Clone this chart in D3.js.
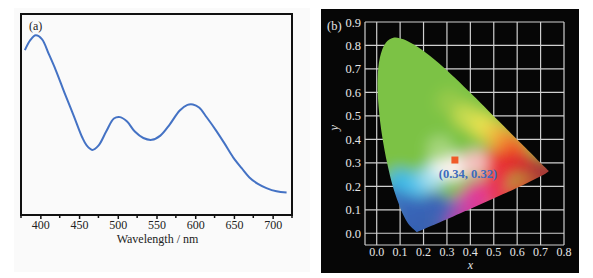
<!DOCTYPE html>
<html lang="en">
<head>
  <meta charset="UTF-8">
  <title>Emission spectrum and CIE diagram</title>
  <style>
    body { margin: 0; background: #fff; }
    text { font-family: 'Liberation Serif', 'DejaVu Serif', serif; }
  </style>
</head>
<body>
  <script src="https://d3js.org/d3.v7.min.js"></script>
  <div id="chart"></div>

  <script>
    // (a) emission spectrum
    const wavelength = [380, 387, 394, 402, 411, 420, 432, 443, 454, 460, 467, 475, 485, 495, 503, 512, 522, 533, 544, 555, 567, 580, 590, 597, 605, 615, 627, 638, 649, 660, 670, 681, 692, 705, 718]
    const intensity = [0.82, 0.87, 0.894, 0.875, 0.80, 0.72, 0.60, 0.495, 0.387, 0.345, 0.324, 0.345, 0.415, 0.48, 0.487, 0.465, 0.415, 0.383, 0.374, 0.395, 0.45, 0.52, 0.548, 0.55, 0.535, 0.485, 0.42, 0.355, 0.287, 0.233, 0.187, 0.155, 0.134, 0.118, 0.112]
    const wlTicks = [400, 450, 500, 550, 600, 650, 700]
    const wlMinor = [375, 425, 475, 525, 575, 625, 675, 725]

    // (b) CIE 1931 spectral locus (x, y)
    const locusX = [0.1741, 0.1738, 0.1733, 0.1726, 0.1714, 0.1703, 0.1689, 0.1669, 0.1644, 0.1611, 0.1566, 0.1510, 0.1440, 0.1355, 0.1241, 0.1096, 0.0913, 0.0687, 0.0454, 0.0235, 0.0082, 0.0039, 0.0139, 0.0389, 0.0743, 0.1142, 0.1547, 0.1929, 0.2296, 0.2658, 0.3016, 0.3373, 0.3731, 0.4087, 0.4441, 0.4788, 0.5125, 0.5448, 0.5752, 0.6029, 0.6270, 0.6482, 0.6658, 0.6801, 0.6915, 0.7006, 0.7079, 0.7140, 0.7190, 0.7230, 0.7260, 0.7300, 0.7347]
    const locusY = [0.0050, 0.0049, 0.0048, 0.0048, 0.0051, 0.0058, 0.0069, 0.0086, 0.0109, 0.0138, 0.0177, 0.0227, 0.0297, 0.0399, 0.0578, 0.0868, 0.1327, 0.2007, 0.2950, 0.4127, 0.5384, 0.6548, 0.7502, 0.8120, 0.8338, 0.8262, 0.8059, 0.7816, 0.7543, 0.7243, 0.6923, 0.6589, 0.6245, 0.5896, 0.5547, 0.5202, 0.4866, 0.4544, 0.4242, 0.3965, 0.3725, 0.3514, 0.3340, 0.3197, 0.3083, 0.2993, 0.2920, 0.2859, 0.2809, 0.2770, 0.2740, 0.2700, 0.2653]
    const cieTicksX = [0, 0.1, 0.2, 0.3, 0.4, 0.5, 0.6, 0.7, 0.8]
    const cieTicksY = [0, 0.1, 0.2, 0.3, 0.4, 0.5, 0.6, 0.7, 0.8, 0.9]

    // colour anchors used to paint the diagram (some sit just outside the
    // locus so that the blur does not pull green into the lower edge)
    const hueX = [0.31, 0.38, 0.45, 0.51, 0.55, 0.59, 0.49, 0.57, 0.52, 0.64, 0.71, 0.50, 0.43, 0.40, 0.36, 0.30, 0.25, 0.21, 0.15, 0.18, 0.13, 0.10, 0.18, 0.24, 0.29, 0.33, 0.27, 0.42,
                  0.06, 0.12, 0.20, 0.28, 0.36, 0.45, 0.55, 0.63, 0.72, 0.78]
    const hueY = [0.56, 0.50, 0.46, 0.42, 0.39, 0.36, 0.30, 0.30, 0.24, 0.29, 0.27, 0.19, 0.17, 0.14, 0.11, 0.09, 0.12, 0.09, 0.12, 0.03, 0.06, 0.22, 0.21, 0.24, 0.30, 0.28, 0.36, 0.30,
                  0.14, -0.02, -0.04, 0.00, 0.04, 0.08, 0.13, 0.17, 0.21, 0.27]
    const hueColor = ['#96ca4a', '#c4da50', '#e4e250', '#ecc844', '#f09a36', '#f06a2c', '#ea3a32', '#e62a2a', '#e8303c', '#d22e30', '#a63838', '#e83250', '#e8368a', '#e0389a', '#c848a8', '#5e5cb8', '#3c64b8', '#3a62b6', '#3866ba', '#3460b0', '#3864b6', '#3ab8e6', '#56c4ec', '#a8e0ee', '#ffffff', '#fff2f0', '#a6d67c', '#f6c0c0',
                      '#3a72c0', '#3460b0', '#3460b0', '#4a5cb4', '#c040a8', '#e03490', '#e8304c', '#e02c2c', '#b03434', '#a03838']

    const cieValue = [0.334, 0.312]
    const cieLabel = '(0.34, 0.32)'

    const svg = d3.select('#chart')
      .append('svg')
      .attr('width', 593)
      .attr('height', 278)

    // panel (a) =============================================================
    svg.append('rect')
      .attr('x', 14).attr('y', 8)
      .attr('width', 296).attr('height', 264)
      .attr('fill', '#fafafa')

    const x = d3.scaleLinear().domain([375, 725]).range([21, 292])
    const y = d3.scaleLinear().domain([0, 1]).range([215, 14])

    svg.append('path')
      .datum(wavelength.map((w, i) => [w, intensity[i]]))
      .attr('fill', 'none')
      .attr('stroke', '#4472c4')
      .attr('stroke-width', 2)
      .attr('d', d3.line().x(d => x(d[0])).y(d => y(d[1])).curve(d3.curveCatmullRom))

    svg.append('rect')
      .attr('x', 21).attr('y', 14)
      .attr('width', 271).attr('height', 201)
      .attr('fill', 'none')
      .attr('stroke', '#111')
      .attr('stroke-width', 2)

    const axisA = svg.append('g')
      .attr('transform', 'translate(0, 215)')
      .call(d3.axisBottom(x).tickValues(wlTicks).tickSize(4).tickPadding(1.5))
    axisA.select('.domain').remove()
    axisA.selectAll('line').attr('stroke', '#111').attr('stroke-width', 1.5)
    axisA.selectAll('text').attr('font-size', 12).attr('fill', '#222')
      .style('font-family', "'Liberation Serif', serif")

    svg.append('g')
      .selectAll('line')
      .data(wlMinor)
      .join('line')
      .attr('x1', d => x(d)).attr('x2', d => x(d))
      .attr('y1', 215).attr('y2', 218)
      .attr('stroke', '#111').attr('stroke-width', 1.5)

    svg.append('text')
      .attr('x', x(550) + 1).attr('y', 243)
      .attr('text-anchor', 'middle')
      .attr('font-size', 12)
      .attr('fill', '#222')
      .text('Wavelength / nm')

    svg.append('text')
      .attr('x', 29).attr('y', 30)
      .attr('font-size', 12)
      .attr('fill', '#222')
      .text('(a)')

    // panel (b) =============================================================
    svg.append('rect')
      .attr('x', 321).attr('y', 9)
      .attr('width', 258).attr('height', 264)
      .attr('fill', '#060606')

    const cx = d3.scaleLinear().domain([-0.05, 0.8]).range([365, 564])
    const cy = d3.scaleLinear().domain([-0.05, 0.9]).range([245, 22])

    const grid = svg.append('g').attr('stroke', '#cfcfcf').attr('stroke-width', 1.2)
    grid.selectAll('.v')
      .data([-0.05].concat(cieTicksX))
      .join('line')
      .attr('x1', d => cx(d)).attr('x2', d => cx(d))
      .attr('y1', cy(0.9)).attr('y2', cy(-0.05))
    grid.selectAll('.h')
      .data([-0.05].concat(cieTicksY))
      .join('line')
      .attr('y1', d => cy(d)).attr('y2', d => cy(d))
      .attr('x1', cx(-0.05)).attr('x2', cx(0.8))

    // horseshoe, painted with blurred colour anchors
    const defs = svg.append('defs')
    defs.append('clipPath')
      .attr('id', 'locus')
      .append('path')
      .attr('d', d3.line().x(d => cx(d[0])).y(d => cy(d[1])).curve(d3.curveCatmullRomClosed)(locusX.map((v, i) => [v, locusY[i]])))
    defs.append('filter')
      .attr('id', 'soft')
      .attr('x', '-50%').attr('y', '-50%').attr('width', '200%').attr('height', '200%')
      .append('feGaussianBlur')
      .attr('stdDeviation', 7)

    const horseshoe = svg.append('g').attr('clip-path', 'url(#locus)')
    const paint = horseshoe.append('g').attr('filter', 'url(#soft)')
    paint.append('rect')
      .attr('x', cx(-0.1)).attr('y', cy(0.95))
      .attr('width', cx(0.9) - cx(-0.1)).attr('height', cy(-0.1) - cy(0.95))
      .attr('fill', '#7cc244')
    paint.selectAll('circle')
      .data(hueColor)
      .join('circle')
      .attr('cx', (d, i) => cx(hueX[i]))
      .attr('cy', (d, i) => cy(hueY[i]))
      .attr('r', 13)
      .attr('fill', d => d)

    // axis labels
    svg.append('g')
      .selectAll('text')
      .data(cieTicksX)
      .join('text')
      .attr('x', d => cx(d))
      .attr('y', 256)
      .attr('text-anchor', 'middle')
      .attr('font-size', 12)
      .attr('fill', '#e6e6e6')
      .text(d => d.toFixed(1))

    svg.append('g')
      .selectAll('text')
      .data(cieTicksY)
      .join('text')
      .attr('x', 361)
      .attr('y', d => cy(d) + 4.5)
      .attr('text-anchor', 'end')
      .attr('font-size', 12.5)
      .attr('fill', '#e6e6e6')
      .text(d => d.toFixed(1))

    svg.append('text')
      .attr('x', cx(0.4)).attr('y', 269)
      .attr('text-anchor', 'middle')
      .attr('font-size', 12)
      .attr('font-style', 'italic')
      .attr('fill', '#e6e6e6')
      .text('x')

    svg.append('text')
      .attr('transform', `translate(338, ${cy(0.45)}) rotate(-90)`)
      .attr('text-anchor', 'middle')
      .attr('font-size', 12.5)
      .attr('font-style', 'italic')
      .attr('fill', '#e6e6e6')
      .text('y')

    svg.append('text')
      .attr('x', 327).attr('y', 30)
      .attr('font-size', 12.5)
      .attr('fill', '#e6e6e6')
      .text('(b)')

    // colour coordinate
    svg.append('rect')
      .attr('x', cx(cieValue[0]) - 3.5)
      .attr('y', cy(cieValue[1]) - 3.5)
      .attr('width', 7).attr('height', 7)
      .attr('fill', '#f05a28')

    svg.append('text')
      .attr('x', cx(cieValue[0]) + 13)
      .attr('y', cy(cieValue[1]) + 18)
      .attr('text-anchor', 'middle')
      .attr('font-size', 12.5)
      .attr('font-weight', 'bold')
      .attr('fill', '#3d6bbd')
      .text(cieLabel)
  </script>
</body>
</html>
